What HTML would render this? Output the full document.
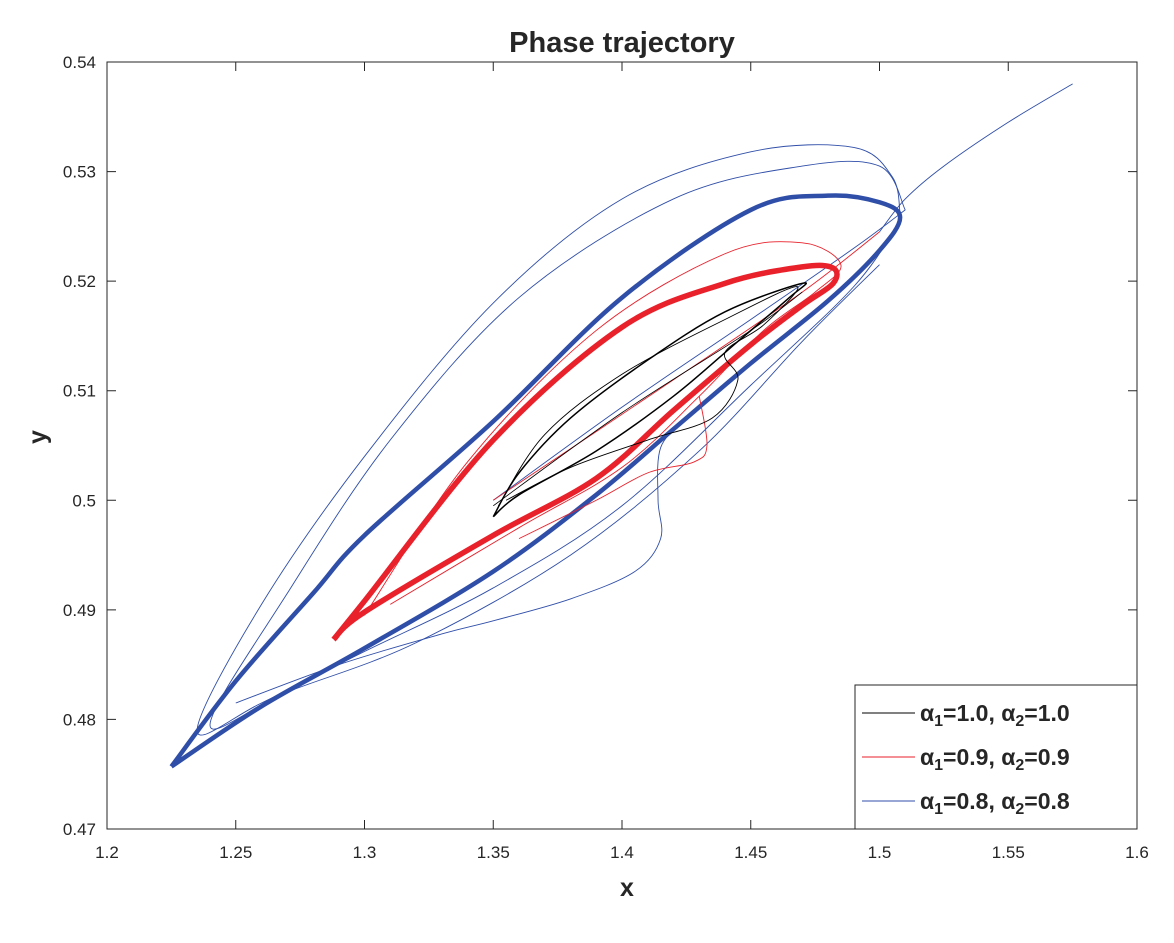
<!DOCTYPE html>
<html><head><meta charset="utf-8">
<style>
body{margin:0;background:#fff;}
svg text{font-family:"Liberation Sans",sans-serif;fill:#262626;}
</style></head>
<body>
<svg id="chart" width="1174" height="938" xmlns="http://www.w3.org/2000/svg">
<rect width="1174" height="938" fill="#fff"/>
<text x="622" y="52" text-anchor="middle" font-size="29" font-weight="bold" fill="#1a1a1a">Phase trajectory</text>
<rect x="107" y="62" width="1030" height="767" fill="#fff" stroke="#262626" stroke-width="1"/>
<g id="ticks"></g>
<g id="series"></g>
<text x="627" y="896" text-anchor="middle" font-size="25" font-weight="bold">x</text>
<text transform="translate(46,437) rotate(-90)" text-anchor="middle" font-size="25" font-weight="bold">y</text>
<g id="legend">
<rect x="855" y="685" width="282" height="144" fill="#fff" stroke="#262626" stroke-width="1"/>
<line x1="862" y1="713" x2="915" y2="713" stroke="#000" stroke-width="1"/>
<text x="920" y="721" font-size="23" font-weight="bold" fill="#000">α<tspan font-size="16" dy="5">1</tspan><tspan dy="-5">=1.0, α</tspan><tspan font-size="16" dy="5">2</tspan><tspan dy="-5">=1.0</tspan></text>
<line x1="862" y1="757" x2="915" y2="757" stroke="#e8212b" stroke-width="1"/>
<text x="920" y="765" font-size="23" font-weight="bold" fill="#000">α<tspan font-size="16" dy="5">1</tspan><tspan dy="-5">=0.9, α</tspan><tspan font-size="16" dy="5">2</tspan><tspan dy="-5">=0.9</tspan></text>
<line x1="862" y1="801" x2="915" y2="801" stroke="#2f4ea8" stroke-width="1"/>
<text x="920" y="809" font-size="23" font-weight="bold" fill="#000">α<tspan font-size="16" dy="5">1</tspan><tspan dy="-5">=0.8, α</tspan><tspan font-size="16" dy="5">2</tspan><tspan dy="-5">=0.8</tspan></text>
</g>
</svg>
<script>
const xTicks=[1.2,1.25,1.3,1.35,1.4,1.45,1.5,1.55,1.6];
const xTickLabels=["1.2","1.25","1.3","1.35","1.4","1.45","1.5","1.55","1.6"];
const yTicks=[0.47,0.48,0.49,0.5,0.51,0.52,0.53,0.54];
const yTickLabels=["0.47","0.48","0.49","0.5","0.51","0.52","0.53","0.54"];

// blue (alpha=0.8) trajectories
const blueCore=[[1.225,0.4757],[1.25,0.4835],[1.28,0.4915],[1.3,0.4968],[1.35,0.5072],[1.4,0.5185],[1.45,0.5265],[1.48,0.5278],[1.5,0.5272],[1.508,0.5258],[1.5,0.5228],[1.48,0.5182],[1.45,0.5125],[1.42,0.5065],[1.39,0.5005],[1.35,0.4935],[1.3,0.4865],[1.26,0.4812],[1.225,0.4757]];
const blueOuter1=[[1.508,0.5262],[1.505,0.5295],[1.49,0.5322],[1.45,0.5318],[1.4,0.5275],[1.35,0.518],[1.3,0.504],[1.26,0.4905],[1.235,0.479],[1.26,0.4815],[1.3,0.4862],[1.35,0.492],[1.4,0.4995],[1.45,0.5105],[1.49,0.5195],[1.508,0.5255]];
const blueOuter2=[[1.51,0.5265],[1.5,0.5305],[1.47,0.5305],[1.42,0.5275],[1.36,0.5185],[1.31,0.5055],[1.27,0.4915],[1.24,0.4795],[1.27,0.4825],[1.32,0.487],[1.38,0.495],[1.43,0.5045],[1.47,0.5145],[1.5,0.5215]];
const blueTransient=[[1.35,0.5],[1.4,0.5085],[1.45,0.5165],[1.49,0.523],[1.51,0.5265]];
const blueStart=[[1.575,0.538],[1.55,0.5345],[1.525,0.5305],[1.51,0.5275],[1.5,0.5245]];
const blueWiggle=[[1.425,0.5075],[1.415,0.5048],[1.414,0.5],[1.415,0.4965],[1.405,0.4935],[1.38,0.491],[1.35,0.489],[1.33,0.4878],[1.29,0.485],[1.25,0.4815]];

// red (alpha=0.9)
const redCore=[[1.288,0.4873],[1.3,0.4908],[1.35,0.5055],[1.4,0.5158],[1.44,0.5198],[1.47,0.5213],[1.482,0.5212],[1.482,0.5198],[1.47,0.5178],[1.45,0.5142],[1.42,0.5082],[1.39,0.502],[1.35,0.4968],[1.3,0.4898],[1.288,0.4873]];
const redOuter=[[1.3,0.4895],[1.34,0.5035],[1.39,0.5155],[1.44,0.5225],[1.47,0.5235],[1.485,0.5215],[1.475,0.519],[1.455,0.5155],[1.43,0.5095],[1.4,0.503],[1.36,0.4975],[1.31,0.4905]];
const redTransient=[[1.43,0.5095],[1.433,0.505],[1.428,0.5035],[1.41,0.5025],[1.39,0.5],[1.36,0.4965]];
const redLine=[[1.35,0.5],[1.42,0.511],[1.47,0.519],[1.5,0.5245]];

// black (alpha=1.0)
const blackCore=[[1.35,0.4985],[1.36,0.5025],[1.38,0.5075],[1.41,0.5128],[1.44,0.5172],[1.47,0.5198],[1.465,0.5185],[1.445,0.5145],[1.42,0.5095],[1.39,0.5045],[1.36,0.5005],[1.35,0.4985]];
const blackInner=[[1.352,0.4995],[1.37,0.506],[1.4,0.5115],[1.44,0.5165],[1.468,0.5195],[1.455,0.516],[1.44,0.5135],[1.445,0.511],[1.435,0.5075],[1.41,0.5055],[1.38,0.503],[1.355,0.5]];
const blackLine=[[1.35,0.4995],[1.4,0.508],[1.45,0.5155],[1.47,0.519]];

const X0=107,X1=1137,Y0=829,Y1=62;
const xs=v=>X0+(v-1.2)/0.4*(X1-X0);
const ys=v=>Y0-(v-0.47)/0.07*(Y0-Y1);
const NS="http://www.w3.org/2000/svg";
const tg=document.getElementById('ticks');
xTicks.forEach((t,i)=>{
  const x=xs(t);
  const l=document.createElementNS(NS,'path');
  l.setAttribute('d',`M${x},${Y0}v-9M${x},${Y1}v9`);
  l.setAttribute('stroke','#262626');
  
  
  tg.appendChild(l);
  const tx=document.createElementNS(NS,'text');
  tx.setAttribute('x',x);tx.setAttribute('y',858);tx.setAttribute('text-anchor','middle');tx.setAttribute('font-size','17');
  tx.textContent=xTickLabels[i];
  
  
  tg.appendChild(tx);
});
yTicks.forEach((t,i)=>{
  const y=ys(t);
  const l=document.createElementNS(NS,'path');
  l.setAttribute('d',`M${X0},${y}h9M${X1},${y}h-9`);
  l.setAttribute('stroke','#262626');
  
  
  tg.appendChild(l);
  const tx=document.createElementNS(NS,'text');
  tx.setAttribute('x',96);tx.setAttribute('y',y+6);tx.setAttribute('text-anchor','end');tx.setAttribute('font-size','17');
  tx.textContent=yTickLabels[i];
  
  
  tg.appendChild(tx);
});
function pathD(pts){
  const p=pts.map(q=>[xs(q[0]),ys(q[1])]);
  let d=`M${p[0][0]},${p[0][1]}`;
  for(let i=0;i<p.length-1;i++){
    const a=p[i-1]||p[i],b=p[i],c=p[i+1],e=p[i+2]||c;
    d+=`C${b[0]+(c[0]-a[0])/6},${b[1]+(c[1]-a[1])/6} ${c[0]-(e[0]-b[0])/6},${c[1]-(e[1]-b[1])/6} ${c[0]},${c[1]}`;
  }
  return d;
}
const sg=document.getElementById('series');
function draw(pts,color,w,name){
  const el=document.createElementNS(NS,'path');
  el.setAttribute('d',pathD(pts));
  el.setAttribute('fill','none');el.setAttribute('stroke',color);el.setAttribute('stroke-width',w);
  el.setAttribute('stroke-linejoin','round');
  
  
  sg.appendChild(el);
}
const B='#2f4ea8',R='#e8212b',K='#000';
draw(blueStart,B,0.9,'blue-transient');
draw(blueOuter1,B,0.9,'blue-outer-loop');
draw(blueOuter2,B,0.9,'blue-outer-loop');
draw(blueTransient,B,0.9,'blue-transient');
draw(blueWiggle,B,0.9,'blue-transient');
draw(blueCore,B,4.5,'blue-limit-cycle');
draw(redOuter,R,0.9,'red-outer-loop');
draw(redTransient,R,0.9,'red-transient');
draw(redLine,R,0.9,'red-transient');
draw(redCore,R,5.5,'red-limit-cycle');
draw(blackInner,K,0.9,'black-inner-loop');
draw(blackLine,K,0.8,'black-transient');
draw(blackCore,K,1.5,'black-limit-cycle');
</script>
</body></html>
